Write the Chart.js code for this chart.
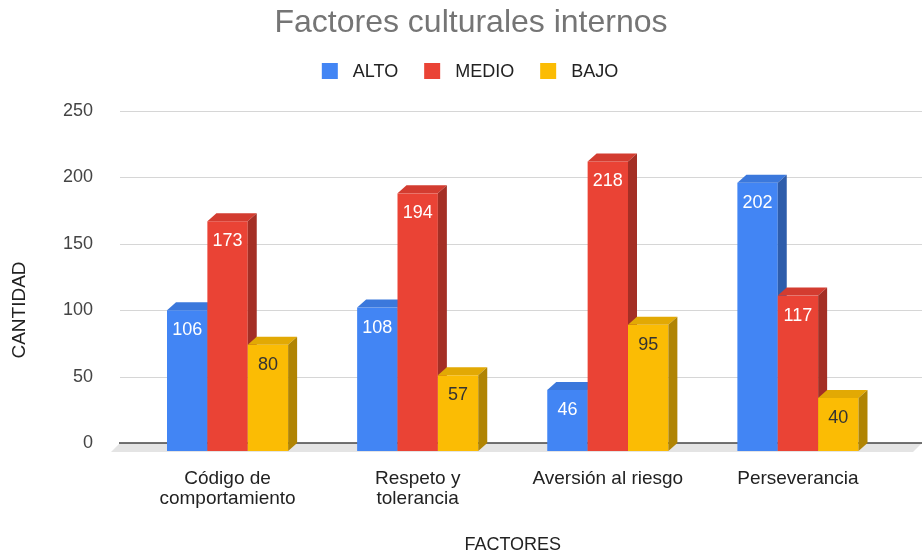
<!DOCTYPE html>
<html>
<head>
<meta charset="utf-8">
<script src="https://cdn.jsdelivr.net/npm/chart.js@4.4.0/dist/chart.umd.min.js"></script>
<style>
  body { margin: 0; background: #fff; }
  #wrap { width: 922px; height: 556px; }
</style>
</head>
<body>
<div id="wrap"><canvas id="chart"></canvas></div>
<script>
// datos
const categorias = [['Código de', 'comportamiento'], ['Respeto y', 'tolerancia'], 'Aversión al riesgo', 'Perseverancia'];
const alto = [106, 108, 46, 202];
const medio = [173, 194, 218, 117];
const bajo = [80, 57, 95, 40];
const ticksY = [0, 50, 100, 150, 200, 250];

const FUENTE = '"Liberation Sans", Arial, sans-serif';
const DX = 9, DY = 8; // profundidad 3D

function oscurecer(hex, f) {
  const n = parseInt(hex.slice(1), 16);
  const r = Math.round(((n >> 16) & 255) * f);
  const g = Math.round(((n >> 8) & 255) * f);
  const b = Math.round((n & 255) * f);
  return `rgb(${r},${g},${b})`;
}

function poligono(ctx, pts, color) {
  ctx.fillStyle = color;
  ctx.beginPath();
  ctx.moveTo(pts[0][0], pts[0][1]);
  pts.slice(1).forEach(p => ctx.lineTo(p[0], p[1]));
  ctx.closePath();
  ctx.fill();
}

// dibuja rejilla, suelo y barras en 3D
const barras3d = {
  id: 'barras3d',
  beforeDatasetsDraw(chart) {
    const { ctx, scales: { y } } = chart;
    ctx.save();

    ctx.strokeStyle = '#d6d6d6';
    ctx.lineWidth = 1;
    ticksY.forEach(v => {
      if (v === 0) return;
      const py = Math.round(y.getPixelForValue(v)) + 0.5;
      ctx.beginPath();
      ctx.moveTo(120, py);
      ctx.lineTo(922, py);
      ctx.stroke();
    });

    const y0 = y.getPixelForValue(0);
    poligono(ctx, [[120, y0], [922, y0], [922 - DX, y0 + DY + 1], [120 - DX, y0 + DY + 1]], '#e4e4e4');
    ctx.strokeStyle = '#444';
    ctx.lineWidth = 1.6;
    ctx.beginPath();
    ctx.moveTo(119, y0);
    ctx.lineTo(922, y0);
    ctx.stroke();

    const etiquetas = [];
    chart.data.datasets.forEach((ds, i) => {
      const meta = chart.getDatasetMeta(i);
      meta.data.forEach((bar, j) => {
        const { x, y: top, base, width } = bar.getProps(['x', 'y', 'base', 'width'], true);
        const l = x - width / 2, r = x + width / 2;
        const ft = top + DY, fb = base + DY;
        ctx.fillStyle = ds.backgroundColor;
        ctx.fillRect(l, ft, width, fb - ft);
        poligono(ctx, [[l, ft], [r, ft], [r + DX, top], [l + DX, top]], oscurecer(ds.backgroundColor, 0.9));
        poligono(ctx, [[r, ft], [r + DX, top], [r + DX, base], [r, fb]], oscurecer(ds.backgroundColor, 0.7));
        etiquetas.push({ x, y: ft + 20, txt: String(ds.data[j]), color: ds.labelColor });
      });
    });

    ctx.font = '18px ' + FUENTE;
    ctx.textAlign = 'center';
    ctx.textBaseline = 'middle';
    etiquetas.forEach(e => {
      ctx.fillStyle = e.color;
      ctx.fillText(e.txt, e.x, e.y);
    });
    ctx.restore();
    return false;
  }
};

// titulo, leyenda y titulo del eje Y
const extras = {
  id: 'extras',
  afterDraw(chart) {
    const ctx = chart.ctx;
    ctx.save();
    ctx.textBaseline = 'middle';
    ctx.textAlign = 'center';
    ctx.font = '32px ' + FUENTE;
    ctx.fillStyle = '#757575';
    ctx.fillText('Factores culturales internos', 471, 23);

    ctx.font = '18px ' + FUENTE;
    ctx.textAlign = 'left';
    const items = chart.data.datasets;
    let total = 0;
    items.forEach((ds, i) => {
      total += 16 + 15 + ctx.measureText(ds.label).width + (i < items.length - 1 ? 26 : 0);
    });
    let x = 470 - total / 2;
    const yc = 71;
    items.forEach(ds => {
      ctx.fillStyle = ds.backgroundColor;
      ctx.fillRect(x, yc - 8, 16, 16);
      x += 31;
      ctx.fillStyle = '#222';
      ctx.fillText(ds.label, x, yc + 1);
      x += ctx.measureText(ds.label).width + 26;
    });

    ctx.translate(20, 310);
    ctx.rotate(-Math.PI / 2);
    ctx.textAlign = 'center';
    ctx.font = '19px ' + FUENTE;
    ctx.fillStyle = '#222';
    ctx.fillText('CANTIDAD', 0, 0);
    ctx.restore();
  }
};

const ctx = document.getElementById('chart').getContext('2d');
const chart = new Chart(ctx, {
  type: 'bar',
  data: {
    labels: categorias,
    datasets: [
      { label: 'ALTO', data: alto, backgroundColor: '#4285F4', labelColor: '#fff' },
      { label: 'MEDIO', data: medio, backgroundColor: '#EA4335', labelColor: '#fff' },
      { label: 'BAJO', data: bajo, backgroundColor: '#FBBC04', labelColor: '#333' }
    ]
  },
  options: {
    responsive: true,
    maintainAspectRatio: false,
    animation: false,
    layout: { padding: { left: 0, right: 29, top: 111, bottom: 0 } },
    datasets: { bar: { barPercentage: 1, categoryPercentage: 0.637 } },
    plugins: {
      legend: { display: false },
      tooltip: { enabled: false },
      title: { display: false }
    },
    scales: {
      x: {
        grid: { display: false },
        border: { display: false },
        ticks: {
          color: '#222',
          font: { family: FUENTE, size: 19, lineHeight: 1.05 },
          padding: 18,
          maxRotation: 0,
          autoSkip: false
        },
        title: {
          display: true,
          text: 'FACTORES',
          color: '#222',
          font: { family: FUENTE, size: 18 },
          padding: { top: 0, bottom: 0 }
        },
        afterFit(s) { s.height = 113; }
      },
      y: {
        min: 0,
        max: 250,
        grid: { display: false },
        border: { display: false },
        afterBuildTicks(s) { s.ticks = ticksY.map(v => ({ value: v })); },
        ticks: {
          color: '#444',
          font: { family: FUENTE, size: 18 },
          padding: 31.5
        },
        afterFit(s) { s.width = 132.5; }
      }
    }
  },
  plugins: [barras3d, extras]
});
</script>
</body>
</html>
